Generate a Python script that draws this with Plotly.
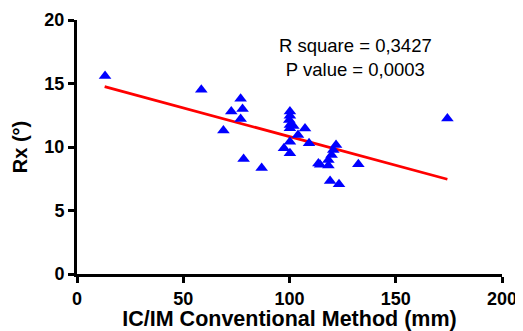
import numpy as np
import plotly.graph_objects as go

ic_im = [13.2, 58.5, 77.0, 72.6, 77.9, 77.0, 68.9, 78.4, 86.9,
         100.2, 100.2, 99.9, 100.2, 101.8, 100.2, 107.3, 104.0, 100.2, 97.4, 100.2,
         109.2, 121.9, 120.6, 119.8, 118.3, 113.6, 114.4, 118.3, 119.1, 123.3,
         132.4, 174.3]
rx = [15.6, 14.5, 13.8, 12.8, 13.0, 12.2, 11.3, 9.05, 8.35,
      12.8, 12.47, 12.13, 11.73, 11.65, 11.47, 11.45, 10.94, 10.42, 9.9, 9.5,
      10.29, 10.16, 9.76, 9.37, 8.98, 8.71, 8.6, 8.55, 7.32, 7.06,
      8.65, 12.25]

fit_x = [13.0, 174.3]
fit_intercept = 15.34
fit_slope = -0.0452
fit_y = [fit_intercept + fit_slope * v for v in fit_x]

x_ticks = [0, 50, 100, 150, 200]
y_ticks = [0, 5, 10, 15, 20]

FONT = "Liberation Sans, Arial"

fig = go.Figure()
fig.add_trace(go.Scatter(x=fit_x, y=fit_y, mode="lines",
                         line=dict(color="#ff0000", width=2.7), showlegend=False))
fig.add_trace(go.Scatter(x=ic_im, y=rx, mode="markers",
                         marker=dict(symbol="triangle-up", color="#0000ff", size=11),
                         showlegend=False))

axis_common = dict(showgrid=False, zeroline=False, showline=True, linecolor="black",
                   linewidth=3, ticks="outside", ticklen=6, tickwidth=3, tickcolor="black",
                   automargin=False,
                   tickfont=dict(family=FONT, size=18, color="black", weight="bold"))

# page body has an 8px default margin, so the figure is sized to fit the window
fig.update_layout(
    width=515, height=323,
    margin=dict(l=69, r=21, t=12, b=57),
    plot_bgcolor="white", paper_bgcolor="white",
    xaxis=dict(range=[0, 200], tickvals=x_ticks,
               title=dict(text="IC/IM Conventional Method (mm)", standoff=4,
                          font=dict(family=FONT, size=21.5, color="black", weight="bold")),
               **axis_common),
    yaxis=dict(range=[0, 20], tickvals=y_ticks,
               title=dict(text="Rx (°)", standoff=12,
                          font=dict(family=FONT, size=20, color="black", weight="bold")),
               **axis_common),
    annotations=[dict(x=0.656, y=0.854, xref="paper", yref="paper", showarrow=False,
                      xanchor="center", yanchor="middle",
                      text="R square = 0,3427<br>P value = 0,0003", align="center",
                      font=dict(family=FONT, size=18.5, color="black"))],
)

fig.write_html("out.html")
